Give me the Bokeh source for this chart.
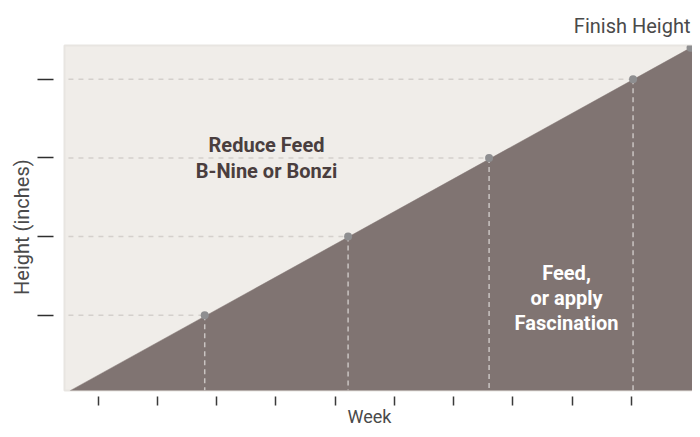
import math
from bokeh.plotting import figure
from bokeh.models import Range1d, FixedTicker, Label, LinearAxis, Title, CustomJSTickFormatter
from bokeh.embed import file_html
from bokeh.resources import INLINE

# ---- data ----
week_ticks = [1, 2, 3, 4, 5, 6, 7, 8, 9, 10]
height_ticks = [1, 2, 3, 4]
stage_week = [2.8, 5.22, 7.6, 10.03, 11.0]
stage_height = [1.0, 2.0, 3.0, 4.0, 4.4]
start_week = 0.53
start_height = 0.04
upper_lines = ["Reduce Feed", "B-Nine or Bonzi"]
lower_lines = ["Feed,", "or apply", "Fascination"]
finish_label = "Finish Height"
x_title = "Week"
y_title = "Height (inches)"

X0, X1 = 0.4333, 11.0333
Y0, Y1 = 0.0416, 4.43

BEIGE = "#f0ede9"
DARK = "#807472"
FONT = "Roboto"
TXT = "#4a4a4a"

p = figure(width=692, height=429, output_backend="svg", toolbar_location=None,
           x_range=Range1d(X0, X1), y_range=Range1d(Y0, Y1),
           min_border_left=64, min_border_right=0, min_border_top=45, min_border_bottom=36)
p.background_fill_color = BEIGE
p.border_fill_color = "white"
p.outline_line_color = "#e8e5e1"
p.outline_line_width = 2
p.grid.visible = False

# dark area below the diagonal
slope = (stage_height[-1] - start_height) / (stage_week[-1] - start_week)
ext = 0.5
px = [start_week, stage_week[-1], stage_week[-1] + ext, stage_week[-1] + ext, start_week]
py = [start_height, stage_height[-1], stage_height[-1] + slope * ext, Y0 - 0.2, Y0 - 0.2]
p.patch(px, py, fill_color=DARK, line_color=DARK, line_width=0.5)

# dashed guide lines
n = len(stage_week) - 1
p.segment(x0=[0.5] * n, y0=stage_height[:n], x1=stage_week[:n], y1=stage_height[:n],
          line_color="#d4d0cc", line_width=1.5, line_dash="5 5")
p.segment(x0=stage_week[:n], y0=stage_height[:n], x1=stage_week[:n], y1=[Y0] * n,
          line_color="#c9c4c2", line_width=1.5, line_dash="5 4")

p.scatter(stage_week, stage_height, size=8, fill_color="#8e8e90", line_color=None)

# axes: ticks only
for ax in (p.xaxis, p.yaxis):
    ax.axis_line_color = None
    ax.minor_tick_line_color = None
    ax.minor_tick_out = 0
    ax.minor_tick_in = 0
    ax.major_label_text_font_size = "0px"
    ax.major_label_standoff = 0
    ax.major_tick_line_width = 1.5
p.xaxis.ticker = FixedTicker(ticks=week_ticks)
p.yaxis.ticker = FixedTicker(ticks=height_ticks)
p.xaxis.major_tick_in = -6
p.xaxis.major_tick_out = 15
p.yaxis.major_tick_in = -11
p.yaxis.major_tick_out = 27
p.xaxis.major_tick_line_color = "#3a3a3a"
p.yaxis.major_tick_line_color = "#2e2e2e"

# axis titles as single tick labels on extra axes (to control their position)
x_title_pos = 5.58
y_title_pos = 2.12
xa = LinearAxis(ticker=FixedTicker(ticks=[x_title_pos]),
                formatter=CustomJSTickFormatter(code="return '%s'" % x_title),
                axis_line_color=None, major_tick_line_color=None, minor_tick_line_color=None,
                major_tick_out=0, major_tick_in=0, minor_tick_out=0, minor_tick_in=0,
                major_label_standoff=0, major_label_text_font=FONT,
                major_label_text_font_size="18px", major_label_text_color=TXT)
p.add_layout(xa, "below")
ya = LinearAxis(ticker=FixedTicker(ticks=[y_title_pos]),
                formatter=CustomJSTickFormatter(code="return '%s'" % y_title),
                axis_line_color=None, major_tick_line_color=None, minor_tick_line_color=None,
                major_tick_out=0, major_tick_in=0, minor_tick_out=0, minor_tick_in=0,
                major_label_standoff=3, major_label_text_font=FONT,
                major_label_orientation="parallel",
                major_label_text_font_size="20px", major_label_text_color=TXT)
p.add_layout(ya, "left")

p.add_layout(Title(text=finish_label, align="right", offset=2, standoff=16,
                   text_font=FONT, text_font_size="20px", text_font_style="normal",
                   text_color=TXT), "above")

def label(x, y, text, size, color, style="normal", align="center", baseline="alphabetic", angle=0):
    p.add_layout(Label(x=x, y=y, text=text, text_font=FONT, text_font_size=size,
                       text_color=color, text_font_style=style, text_align=align,
                       text_baseline=baseline, angle=angle))

# region texts
for t, yy in zip(upper_lines, [3.17, 2.833]):
    label(3.843, yy, t, "20px", "#4a3e3e", style="bold")
for t, yy in zip(lower_lines, [1.54, 1.221, 0.902]):
    label(8.907, yy, t, "20px", "#ffffff", style="bold")

open("out.html", "w").write(file_html(p, INLINE))
